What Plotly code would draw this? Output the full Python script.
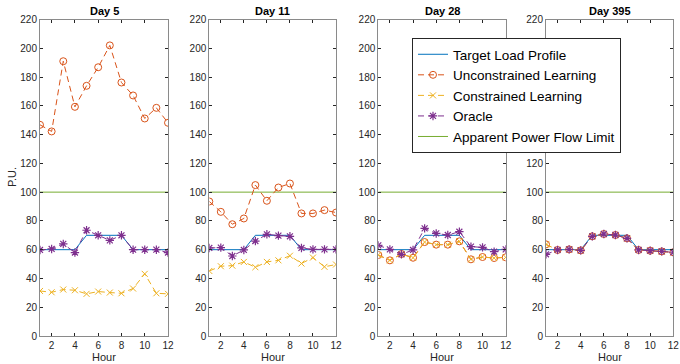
import plotly.graph_objects as go

hours = list(range(1, 13))
days = ["Day 5", "Day 11", "Day 28", "Day 395"]

target = [60, 60, 60, 60, 70, 70, 70, 70, 60, 60, 60, 60]
limit = [100] * 12

unconstrained = {
    "Day 5": [146.8, 142.2, 191.0, 159.3, 173.9, 186.8, 202.0, 176.2, 167.2, 151.2, 158.6, 148.2],
    "Day 11": [93.5, 86.3, 77.7, 81.7, 104.9, 94.0, 103.2, 106.0, 85.2, 85.2, 87.5, 85.8],
    "Day 28": [56.3, 52.6, 57.0, 54.4, 65.3, 63.5, 63.5, 65.8, 53.3, 54.9, 54.2, 54.7],
    "Day 395": [63.7, 59.8, 60.2, 59.5, 69.3, 70.9, 70.2, 67.9, 59.8, 59.3, 58.8, 58.2],
}
constrained = {
    "Day 5": [31.3, 30.4, 32.3, 31.8, 29.3, 30.9, 30.2, 29.7, 33.0, 43.2, 29.7, 29.3],
    "Day 11": [45.2, 48.5, 48.9, 51.5, 47.8, 51.5, 52.6, 55.8, 50.4, 54.5, 48.1, 49.7],
    "Day 28": [56.3, 52.6, 57.0, 54.4, 65.3, 63.5, 63.5, 65.8, 53.3, 54.9, 54.2, 54.7],
    "Day 395": [63.7, 59.8, 60.2, 59.5, 69.3, 70.9, 70.2, 67.9, 59.8, 59.3, 58.8, 58.2],
}
oracle = {
    "Day 5": [59.8, 60.5, 64.0, 58.0, 73.5, 70.0, 66.5, 70.0, 60.0, 60.0, 60.0, 58.0],
    "Day 11": [61.2, 61.4, 55.6, 59.8, 66.0, 70.7, 69.8, 69.3, 61.2, 60.2, 60.2, 60.2],
    "Day 28": [63.0, 60.2, 56.8, 59.8, 74.8, 71.3, 70.2, 72.5, 62.1, 61.6, 58.6, 60.2],
    "Day 395": [56.8, 59.8, 60.2, 59.5, 69.3, 70.9, 70.2, 67.9, 59.8, 59.3, 58.8, 58.2],
}

BLUE = "#0072BD"
ORANGE = "#D95319"
YELLOW = "#EDB120"
PURPLE = "#7E2F8E"
GREEN = "#77AC30"
TXT = "#262626"
FONT = "Liberation Sans, Arial, sans-serif"

W, H = 680, 364
xdoms = [(40, 168), (209.3, 336), (378.3, 505.7), (546, 673.3)]
ytop, ybot = 19.5, 336
ydom = [(H - ybot) / H, (H - ytop) / H]

fig = go.Figure()
dash = "6px,4px"

for i, d in enumerate(days):
    xa = "x" if i == 0 else f"x{i+1}"
    ya = "y" if i == 0 else f"y{i+1}"
    show = i == 0
    fig.add_trace(go.Scatter(x=hours, y=limit, mode="lines", xaxis=xa, yaxis=ya,
                             line=dict(color=GREEN, width=1), name="Apparent Power Flow Limit",
                             showlegend=show, legendrank=5))
    fig.add_trace(go.Scatter(x=hours, y=target, mode="lines", xaxis=xa, yaxis=ya,
                             line=dict(color=BLUE, width=1), name="Target Load Profile",
                             showlegend=show, legendrank=1))
    fig.add_trace(go.Scatter(x=hours, y=unconstrained[d], mode="lines+markers", xaxis=xa, yaxis=ya,
                             line=dict(color=ORANGE, width=1, dash=dash),
                             marker=dict(symbol="circle-open", size=7, color=ORANGE, line=dict(width=1)),
                             name="Unconstrained Learning", showlegend=show, legendrank=2))
    fig.add_trace(go.Scatter(x=hours, y=constrained[d], mode="lines+markers", xaxis=xa, yaxis=ya,
                             line=dict(color=YELLOW, width=1, dash=dash),
                             marker=dict(symbol="x-thin-open", size=6, color=YELLOW, line=dict(width=1, color=YELLOW)),
                             name="Constrained Learning", showlegend=show, legendrank=3))
    fig.add_trace(go.Scatter(x=hours, y=oracle[d], mode="lines+markers", xaxis=xa, yaxis=ya,
                             line=dict(color=PURPLE, width=1, dash=dash),
                             marker=dict(symbol="asterisk-open", size=7, color=PURPLE, line=dict(width=1.2, color=PURPLE)),
                             name="Oracle", showlegend=show, legendrank=4))

    axis_common = dict(showgrid=False, zeroline=False, showline=True, linecolor="#8a8a8a", linewidth=1,
                       mirror="ticks", ticks="inside", ticklen=3, tickcolor=TXT, automargin=False,
                       tickfont=dict(family=FONT, size=10, color=TXT))
    fig.layout[f"xaxis{'' if i == 0 else i+1}"] = dict(
        domain=[xdoms[i][0] / W, xdoms[i][1] / W], range=[1, 12], tickvals=[2, 4, 6, 8, 10, 12],
        anchor=ya, **axis_common)
    fig.layout[f"yaxis{'' if i == 0 else i+1}"] = dict(
        domain=ydom, range=[0, 220], tickvals=list(range(0, 221, 20)), anchor=xa, **axis_common)

    cx = (xdoms[i][0] + xdoms[i][1]) / 2 / W
    fig.add_annotation(text=f"<b>{d}</b>", x=cx, y=(H - 11) / H, xref="paper", yref="paper",
                       showarrow=False, font=dict(family=FONT, size=11, color="#000"),
                       xanchor="center", yanchor="middle")
    fig.add_annotation(text="Hour", x=cx, y=(H - 357) / H, xref="paper", yref="paper",
                       showarrow=False, font=dict(family=FONT, size=11, color=TXT),
                       xanchor="center", yanchor="middle")

fig.add_annotation(text="P.U.", x=12 / W, y=(H - 177) / H, xref="paper", yref="paper",
                   showarrow=False, textangle=-90, font=dict(family=FONT, size=11, color=TXT),
                   xanchor="center", yanchor="middle")

fig.update_layout(
    template="none",
    width=W, height=H, margin=dict(l=0, r=0, t=0, b=0, pad=0), autosize=False,
    paper_bgcolor="white", plot_bgcolor="white",
    showlegend=True,
    legend=dict(x=412 / W, y=(H - 38) / H, xanchor="left", yanchor="top",
                bgcolor="white", bordercolor=TXT, borderwidth=1,
                font=dict(family=FONT, size=13.5, color="#000"),
                tracegroupgap=0, itemwidth=30),
)

fig.write_html("out.html", config={"displayModeBar": False},
               post_script="document.body.style.margin='0px';")
